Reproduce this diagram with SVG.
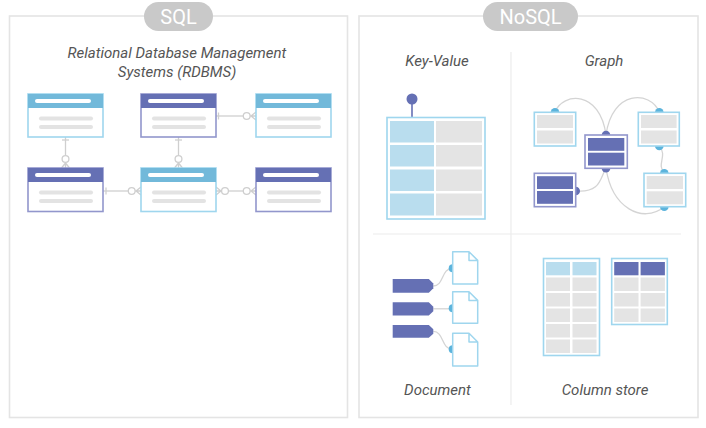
<svg xmlns="http://www.w3.org/2000/svg" width="706" height="428" viewBox="0 0 706 428">
<defs>
<style>
.panel{fill:#fff;stroke:#e4e4e4;stroke-width:1.6}
.pill{fill:#c9c9c9}
.pilltxt{font-family:Roboto,"Liberation Sans",sans-serif;font-size:20px;fill:#fff;text-anchor:middle}
.lbl{font-family:Roboto,"Liberation Sans",sans-serif;font-style:italic;font-size:15px;fill:#555;text-anchor:middle}
.div{stroke:#ececec;stroke-width:1.2;fill:none}
.tblL{fill:#fff;stroke:#9fd6ee;stroke-width:1.6}
.tblD{fill:#fff;stroke:#9296cc;stroke-width:1.6}
.hdL{fill:#72b9da}
.hdD{fill:#6570b4}
.bar{fill:#fff}
.gl{fill:#e3e3e3}
.conn{stroke:#cfcfcf;stroke-width:1.3;fill:none}
.curve{stroke:#d4d4d4;stroke-width:1.3;fill:none}
.cellB{fill:#b9ddee}
.cellG{fill:#e4e4e4}
.cellD{fill:#6570b4}
.dotL{fill:#5cb4dc}
.dotD{fill:#6570b4}
.doc{fill:#fff;stroke:#9fd6ee;stroke-width:1.5;stroke-linejoin:round}
</style>
</defs>
<rect width="706" height="428" fill="#fff"/>

<g id="sql-panel">
<rect class="panel" x="9.5" y="16" width="338" height="401.5"/>
<rect class="pill" x="144" y="2" width="69" height="29" rx="14.5"/>
<text class="pilltxt" x="178.5" y="24">SQL</text>
<text class="lbl" x="177" y="58">Relational Database Management</text>
<text class="lbl" x="177" y="77">Systems (RDBMS)</text>
</g>

<g id="nosql-panel">
<rect class="panel" x="359" y="16" width="339" height="401.5"/>
<rect class="pill" x="483" y="2" width="95" height="29" rx="14.5"/>
<text class="pilltxt" x="530.5" y="24">NoSQL</text>
<line class="div" x1="511" y1="52" x2="511" y2="405"/>
<line class="div" x1="373" y1="234" x2="681" y2="234"/>
</g>

<g id="connectors">
<!-- T1 -> T4 -->
<line class="conn" x1="65.5" y1="137" x2="65.5" y2="155.5"/>
<line class="conn" x1="62" y1="140" x2="69" y2="140"/>
<circle class="conn" cx="65.5" cy="159" r="3.4"/>
<path class="conn" d="M65.5,162.4 V168 M65.5,163 L61.5,168 M65.5,163 L69.5,168"/>
<!-- T2 -> T5 -->
<line class="conn" x1="178.5" y1="137" x2="178.5" y2="155.5"/>
<line class="conn" x1="175" y1="140" x2="182" y2="140"/>
<circle class="conn" cx="178.5" cy="159" r="3.4"/>
<path class="conn" d="M178.5,162.4 V168 M178.5,163 L174.5,168 M178.5,163 L182.5,168"/>
<!-- T2 -> T3 -->
<line class="conn" x1="216" y1="116" x2="243.3" y2="116"/>
<line class="conn" x1="218.5" y1="112.5" x2="218.5" y2="119.5"/>
<circle class="conn" cx="246.7" cy="116" r="3.4"/>
<path class="conn" d="M250.1,116 H256 M251,116 L256,112 M251,116 L256,120"/>
<!-- T4 -> T5 -->
<line class="conn" x1="103" y1="191" x2="128.3" y2="191"/>
<line class="conn" x1="106" y1="187.5" x2="106" y2="194.5"/>
<circle class="conn" cx="131.7" cy="191" r="3.4"/>
<path class="conn" d="M135.1,191 H141 M136,191 L141,187 M136,191 L141,195"/>
<!-- T5 -> T6 -->
<path class="conn" d="M216,191 H221.6 M221,191 L216,187 M221,191 L216,195"/>
<circle class="conn" cx="225" cy="191" r="3.4"/>
<line class="conn" x1="228.4" y1="191" x2="243.3" y2="191"/>
<circle class="conn" cx="246.7" cy="191" r="3.4"/>
<path class="conn" d="M250.1,191 H256 M251,191 L256,187 M251,191 L256,195"/>
<!-- graph curves -->
<path class="curve" d="M555,112 C563,92 600,90 606,135"/>
<path class="curve" d="M606,135 C612,90 650,90 659.3,112"/>
<path class="curve" d="M659.3,146 C668,156 656,164 664.3,173"/>
<path class="curve" d="M576,191 C601,193 600,178 606,168"/>
<path class="curve" d="M606,168 C612,208 642,224 664.3,207"/>
<!-- document curves -->
<path class="curve" d="M433.3,286 C444,286 441,268.3 452.7,268.3"/>
<path class="curve" d="M433.3,308.8 H452.7"/>
<path class="curve" d="M433.3,331.4 C444,331.4 441,349.3 452.7,349.3"/>
</g>

<g id="sql-t1">
<rect class="tblL" x="28" y="94" width="75" height="43"/>
<rect class="hdL" x="28" y="94" width="75" height="14"/>
<rect class="bar" x="35" y="99" width="56" height="4" rx="2"/>
<rect class="gl" x="39" y="116.5" width="54" height="4" rx="2"/>
<rect class="gl" x="39" y="125" width="54" height="4" rx="2"/>
</g>
<g id="sql-t2">
<rect class="tblD" x="141" y="94" width="75" height="43"/>
<rect class="hdD" x="141" y="94" width="75" height="14"/>
<rect class="bar" x="148" y="99" width="56" height="4" rx="2"/>
<rect class="gl" x="152" y="116.5" width="54" height="4" rx="2"/>
<rect class="gl" x="152" y="125" width="54" height="4" rx="2"/>
</g>
<g id="sql-t3">
<rect class="tblL" x="256" y="94" width="75" height="43"/>
<rect class="hdL" x="256" y="94" width="75" height="14"/>
<rect class="bar" x="263" y="99" width="56" height="4" rx="2"/>
<rect class="gl" x="267" y="116.5" width="54" height="4" rx="2"/>
<rect class="gl" x="267" y="125" width="54" height="4" rx="2"/>
</g>
<g id="sql-t4">
<rect class="tblD" x="28" y="168" width="75" height="43.5"/>
<rect class="hdD" x="28" y="168" width="75" height="14"/>
<rect class="bar" x="35" y="173" width="56" height="4" rx="2"/>
<rect class="gl" x="39" y="190.5" width="54" height="4" rx="2"/>
<rect class="gl" x="39" y="199" width="54" height="4" rx="2"/>
</g>
<g id="sql-t5">
<rect class="tblL" x="141" y="168" width="75" height="43.5"/>
<rect class="hdL" x="141" y="168" width="75" height="14"/>
<rect class="bar" x="148" y="173" width="56" height="4" rx="2"/>
<rect class="gl" x="152" y="190.5" width="54" height="4" rx="2"/>
<rect class="gl" x="152" y="199" width="54" height="4" rx="2"/>
</g>
<g id="sql-t6">
<rect class="tblD" x="256" y="168" width="75" height="43.5"/>
<rect class="hdD" x="256" y="168" width="75" height="14"/>
<rect class="bar" x="263" y="173" width="56" height="4" rx="2"/>
<rect class="gl" x="267" y="190.5" width="54" height="4" rx="2"/>
<rect class="gl" x="267" y="199" width="54" height="4" rx="2"/>
</g>

<g id="key-value">
<text class="lbl" x="437" y="66">Key-Value</text>
<line x1="412" y1="103" x2="412" y2="117" stroke="#6570b4" stroke-width="1.6"/>
<circle class="dotD" cx="412" cy="99" r="5.5"/>
<rect class="tblL" x="387" y="117.5" width="98" height="101.5" stroke-width="2"/>
<rect class="cellB" x="390" y="121" width="44" height="21.5"/>
<rect class="cellG" x="436" y="121" width="46" height="21.5"/>
<rect class="cellB" x="390" y="145" width="44" height="21.5"/>
<rect class="cellG" x="436" y="145" width="46" height="21.5"/>
<rect class="cellB" x="390" y="169.5" width="44" height="21.5"/>
<rect class="cellG" x="436" y="169.5" width="46" height="21.5"/>
<rect class="cellB" x="390" y="193.5" width="44" height="22"/>
<rect class="cellG" x="436" y="193.5" width="46" height="22"/>
</g>

<g id="graph">
<text class="lbl" x="604" y="66">Graph</text>
<g id="graph-a">
<circle class="dotL" cx="555" cy="112.3" r="4.3"/>
<rect class="tblL" x="534.3" y="112.3" width="41.4" height="33.7"/>
<rect class="cellG" x="537" y="115" width="36" height="13"/>
<rect class="cellG" x="537" y="130.5" width="36" height="13"/>
</g>
<g id="graph-b">
<circle class="dotD" cx="606" cy="135" r="4.3"/>
<circle class="dotD" cx="606" cy="168.3" r="4.3"/>
<rect class="tblD" x="585" y="135" width="42.3" height="33.3"/>
<rect class="cellD" x="588" y="138" width="36.3" height="12.8"/>
<rect class="cellD" x="588" y="152.7" width="36.3" height="12.8"/>
</g>
<g id="graph-c">
<circle class="dotL" cx="659.3" cy="112.3" r="4.3"/>
<circle class="dotL" cx="659.3" cy="146" r="4.3"/>
<rect class="tblL" x="638.3" y="112.3" width="41" height="33.7"/>
<rect class="cellG" x="641" y="115" width="35.6" height="13"/>
<rect class="cellG" x="641" y="130.5" width="35.6" height="13"/>
</g>
<g id="graph-d">
<circle class="dotD" cx="575.7" cy="191" r="4.3"/>
<rect class="tblD" x="534.3" y="173.3" width="41.4" height="33.4"/>
<rect class="cellD" x="537" y="176.2" width="36" height="12.8"/>
<rect class="cellD" x="537" y="191" width="36" height="12.8"/>
</g>
<g id="graph-e">
<circle class="dotL" cx="664.3" cy="173.3" r="4.3"/>
<circle class="dotL" cx="664.3" cy="206.7" r="4.3"/>
<rect class="tblL" x="644" y="173.3" width="41.7" height="33.4"/>
<rect class="cellG" x="646.7" y="176" width="36.3" height="13"/>
<rect class="cellG" x="646.7" y="191.3" width="36.3" height="13"/>
</g>
</g>

<g id="document">
<text class="lbl" x="437.5" y="395">Document</text>
<path class="dotD" d="M392.7,279 H428.8 L433.3,283.6 V288.2 L428.8,292.7 H392.7 Z"/>
<path class="dotD" d="M392.7,302.3 H428.8 L433.3,306.8 V311.2 L428.8,315.5 H392.7 Z"/>
<path class="dotD" d="M392.7,325 H428.8 L433.3,329.3 V333.7 L428.8,337.8 H392.7 Z"/>
<circle class="dotL" cx="452.7" cy="268.3" r="4"/>
<circle class="dotL" cx="452.7" cy="308.3" r="4"/>
<circle class="dotL" cx="452.7" cy="349.3" r="4"/>
<path class="doc" d="M452.7,251.7 H469 L477.7,260.4 V284 H452.7 Z M469,251.7 V260.4 H477.7"/>
<path class="doc" d="M452.7,291.7 H469 L477.7,300.4 V323.3 H452.7 Z M469,291.7 V300.4 H477.7"/>
<path class="doc" d="M452.7,333.3 H469 L477.7,342 V366 H452.7 Z M469,333.3 V342 H477.7"/>
</g>

<g id="column-store">
<text class="lbl" x="605" y="395">Column store</text>
<rect class="tblL" x="543.5" y="258.5" width="56" height="97" stroke-width="2"/>
<rect class="cellB" x="546" y="262" width="24" height="13.3"/>
<rect class="cellB" x="572.5" y="262" width="24" height="13.3"/>
<rect class="cellG" x="546" y="277.5" width="24" height="13.5"/>
<rect class="cellG" x="572.5" y="277.5" width="24" height="13.5"/>
<rect class="cellG" x="546" y="293" width="24" height="13.5"/>
<rect class="cellG" x="572.5" y="293" width="24" height="13.5"/>
<rect class="cellG" x="546" y="308.5" width="24" height="13.5"/>
<rect class="cellG" x="572.5" y="308.5" width="24" height="13.5"/>
<rect class="cellG" x="546" y="324" width="24" height="13.5"/>
<rect class="cellG" x="572.5" y="324" width="24" height="13.5"/>
<rect class="cellG" x="546" y="339.5" width="24" height="13.5"/>
<rect class="cellG" x="572.5" y="339.5" width="24" height="13.5"/>
<rect class="tblL" x="611.7" y="258.5" width="55.6" height="66" stroke-width="2"/>
<rect class="cellD" x="614.2" y="262" width="24.3" height="13.3"/>
<rect class="cellD" x="640.6" y="262" width="24.3" height="13.3"/>
<rect class="cellG" x="614.2" y="277.5" width="24.3" height="13.5"/>
<rect class="cellG" x="640.6" y="277.5" width="24.3" height="13.5"/>
<rect class="cellG" x="614.2" y="293" width="24.3" height="13.5"/>
<rect class="cellG" x="640.6" y="293" width="24.3" height="13.5"/>
<rect class="cellG" x="614.2" y="308.5" width="24.3" height="13.5"/>
<rect class="cellG" x="640.6" y="308.5" width="24.3" height="13.5"/>
</g>
</svg>
